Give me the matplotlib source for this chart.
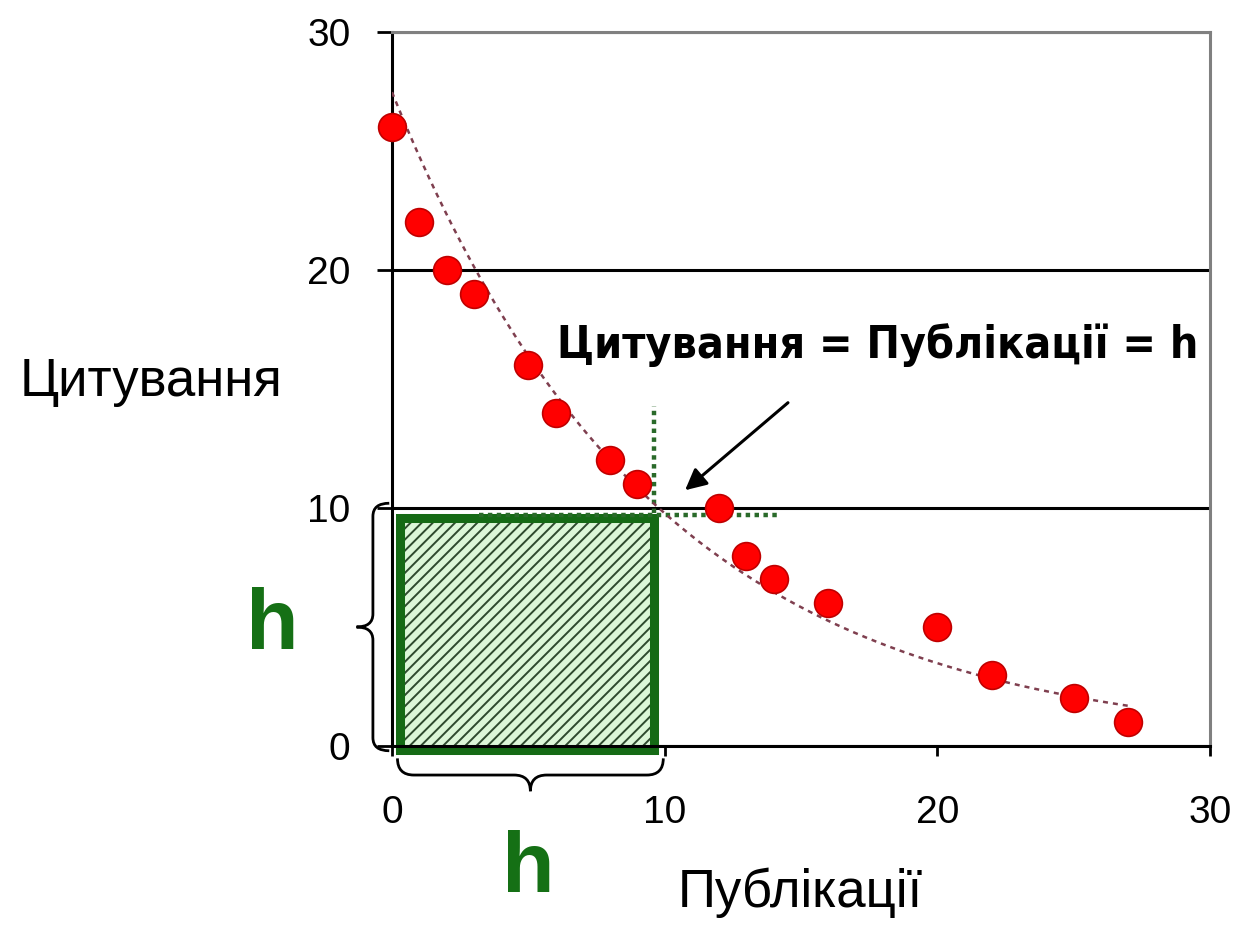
import numpy as np
import matplotlib
matplotlib.use('Agg')
import matplotlib.pyplot as plt
from matplotlib.path import Path
from matplotlib.patches import PathPatch, Rectangle

# publications (rank) and citations
pubs = [0, 1, 2, 3, 5, 6, 8, 9, 12, 13, 14, 16, 20, 22, 25, 27]
cites = [26, 22, 20, 19, 16, 14, 12, 11, 10, 8, 7, 6, 5, 3, 2, 1]
h = 10
ticks = [0, 10, 20, 30]

plt.rcParams['font.family'] = ['Liberation Sans', 'DejaVu Sans']
plt.rcParams['hatch.linewidth'] = 1.4

W, H = 1236, 931
fig = plt.figure(figsize=(W/100, H/100), dpi=100)
ax = fig.add_axes([392/W, 1-746/H, (1210-392)/W, (746-32)/H])

# exponential trend line (like excel) fitted on the points
b, a = np.polyfit(pubs, np.log(cites), 1)
xt = np.linspace(0, max(pubs), 200)
ax.plot(xt, np.exp(a)*np.exp(b*xt), color='#7f3f4f', lw=1.8, ls=(0, (2, 2)), zorder=3)

ax.plot(pubs, cites, 'o', color='#ff0000', mec='#c00000', ms=20, mew=1.2,
        clip_on=False, zorder=4)

# the h square, hatched
inset = 0.3
ax.add_patch(Rectangle((inset, -0.15), h-2*inset-0.1, h-0.25, facecolor='#dcf7d8',
                       edgecolor='#2e4a2e', hatch='///', lw=0, zorder=2))
ax.add_patch(Rectangle((inset, -0.15), h-2*inset-0.1, h-0.25, fill=False,
                       edgecolor='#156a15', lw=6.5, zorder=2.2, clip_on=False))

# green dotted guides
ax.plot([3.2, 14.2], [9.7, 9.7], color='#2a6a2a', lw=3.2, ls=(0, (1, 1)), zorder=2.5)
ax.plot([9.6, 9.6], [9.8, 14.3], color='#2a6a2a', lw=3.2, ls=(0, (1, 1)), zorder=2.5)

ax.annotate('', xy=(10.67, 10.67), xytext=(14.6, 14.5),
            arrowprops=dict(arrowstyle='-|>', color='black', lw=2.2, mutation_scale=32))
ax.text(17.8, 16.85, 'Цитування = Публікації = h', ha='center', va='center',
        fontsize=32, fontweight='bold', fontstretch='condensed',
        family=['DejaVu Sans'])


def brace(ax, p0, p1, depth, tipd, r, vertical):
    # curly brace between p0 and p1, drawn as two halves meeting at the tip
    m = (p0 + p1) / 2
    pts = [(depth + r[0], p0), (depth, p0), (depth, p0 + r[1]),
           (depth, m - r[1]), (depth, m), (tipd, m),
           (tipd, m), (depth, m), (depth, m + r[1]),
           (depth, p1 - r[1]), (depth, p1), (depth + r[0], p1)]
    if not vertical:
        pts = [(q, p) for p, q in pts]
    codes = [Path.MOVETO, Path.CURVE3, Path.CURVE3, Path.LINETO,
             Path.CURVE3, Path.CURVE3, Path.MOVETO, Path.CURVE3, Path.CURVE3,
             Path.LINETO, Path.CURVE3, Path.CURVE3]
    ax.add_patch(PathPatch(Path(pts, codes), fill=False, lw=2, color='black',
                           clip_on=False, zorder=5))


brace(ax, -0.2, h + 0.2, -0.7, -1.3, (0.6, 0.55), True)
brace(ax, 0.2, h - 0.05, -1.22, -1.9, (0.7, 0.6), False)

ax.text(-4.4, h/2, 'h', color='#157015', fontsize=62, fontweight='bold',
        ha='center', va='center')
ax.text(h/2, -5.2, 'h', color='#157015', fontsize=62, fontweight='bold',
        ha='center', va='center', clip_on=False)

ax.set_xlim(0, 30)
ax.set_ylim(0, 30)
ax.set_xticks(ticks)
ax.set_yticks(ticks)
ax.grid(axis='y', color='black', lw=2.2)
ax.tick_params(axis='y', direction='out', length=11, width=2, labelsize=28, pad=19)
ax.tick_params(axis='x', direction='out', length=7, width=2, labelsize=28, pad=28)
for s in ['left', 'bottom']:
    ax.spines[s].set_linewidth(2.2)
    ax.spines[s].set_color('black')
for s in ['top', 'right']:
    ax.spines[s].set_linewidth(2.2)
    ax.spines[s].set_color('#808080')

fig.text(20/W, 1-382/H, 'Цитування', fontsize=38, ha='left', va='center')
fig.text(800/W, 1-893/H, 'Публікації', fontsize=38, ha='center', va='center')

fig.savefig('out.png', dpi=100)
